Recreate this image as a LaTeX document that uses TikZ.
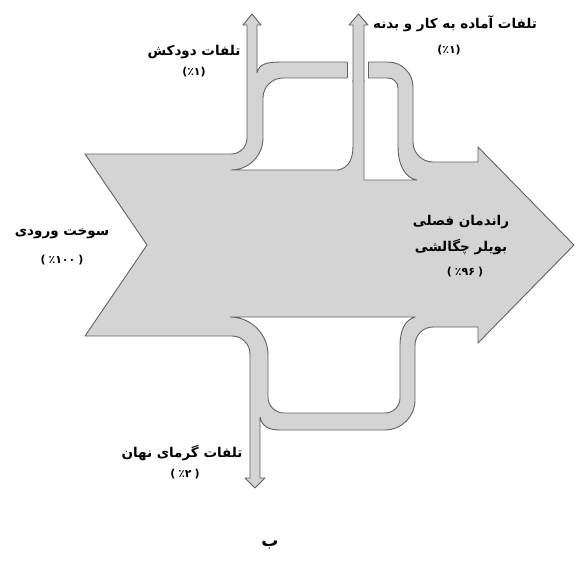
\documentclass[tikz,border=0pt]{standalone}
\usepackage{fontspec}
\newfontfamily\farsi[Script=Arabic]{DejaVu Sans}
\newfontfamily\plain{DejaVu Sans}
\TeXXeTstate=1

\tikzstyle{flow}=[fill=black!17, draw=black!62, line width=0.9pt, line join=round]
\tikzstyle{hole}=[fill=white, draw=black!62, line width=0.9pt, line join=round]
\tikzstyle{edge}=[draw=black!62, line width=0.9pt]
\tikzstyle{title}=[font=\farsi\bfseries\fontsize{13.5}{16}\selectfont, inner sep=0pt]
\tikzstyle{share}=[font=\bfseries\fontsize{11}{13}\selectfont, inner sep=0pt]
\newcommand{\pct}[2]{{\plain(#1}{\farsi ٪}{\farsi #2}{\plain#1)}}

\begin{document}
\begin{tikzpicture}[x=1pt, y=-1pt]
  \useasboundingbox (0,0) rectangle (576,560);
  % main stream with the flue, standby and latent branches
  \path[flow] (85,154) [rounded corners=16] -- (247,154) [sharp corners] -- (247,25)
    -- (243,25) -- (252,14) -- (261,25) -- (257,25) -- (257,73)
    .. controls (259,64) and (266,62) .. (282,62) [rounded corners=25] -- (413,62)
    [rounded corners=20] -- (413,162) [sharp corners] -- (478,162) -- (478,147)
    -- (574,245) -- (478,343) -- (478,327) [rounded corners=18] -- (415,327)
    [rounded corners=30] -- (415,430) [sharp corners] -- (280,430)
    .. controls (268,430) and (262,426) .. (260,417) -- (260,478) -- (265,478)
    -- (255,488) -- (245,478) -- (250,478) [rounded corners=18] -- (250,336)
    [sharp corners] -- (85,336) -- (147,245) -- cycle;
  % openings between the branches
  \draw[hole] (231,170) arc[start angle=90, end angle=0, radius=32] -- (263,98)
    arc[start angle=180, end angle=270, radius=20] -- (353,78) -- (353,146)
    .. controls (353,160) and (348,168) .. (338,170) -- cycle;
  \draw[hole] (364,78) -- (388,78) arc[start angle=270, end angle=360, radius=10]
    -- (398,146) .. controls (398,165) and (405,178) .. (417,180) -- (364,180) -- cycle;
  \draw[hole] (230,317) -- (415,317) .. controls (405,320) and (400,330) .. (400,346)
    -- (400,398) arc[start angle=0, end angle=90, radius=15] -- (284,413)
    arc[start angle=90, end angle=180, radius=16] -- (268,355)
    arc[start angle=0, end angle=-90, radius=38] -- cycle;
  % standby stack crossing over the flue band
  \fill[white] (347,60) rectangle (368,80);
  \draw[flow] (353,82) -- (353,25) -- (349,25) -- (358.5,14) -- (368,25) -- (364,25) -- (364,82);
  \draw[edge] (347,62) -- (347,78) (368,62) -- (368,78);

  \node[title] (F1) at (194,52) {\beginR تلفات دودکش\endR};
  \node[share] (F2) at (194,72) {\pct{}{۱}};
  \node[title] (S1) at (455,24) {\beginR تلفات آماده به کار و بدنه\endR};
  \node[share] (S2) at (449,50) {\pct{}{۱}};
  \node[title] (I1) at (62,234) {\beginR سوخت ورودی\endR};
  \node[share] (I2) at (62,260) {\pct{\hspace{3pt}}{۱۰۰}};
  \node[title] (E1) at (461,222) {\beginR راندمان فصلی\endR};
  \node[title] (E2) at (461,247) {\beginR بویلر چگالشی\endR};
  \node[share] (E3) at (465,272) {\pct{\hspace{3pt}}{۹۶}};
  \node[title] (L1) at (182,453) {\beginR تلفات گرمای نهان\endR};
  \node[share] (L2) at (185,474) {\pct{\hspace{3pt}}{۲}};
  \node[font=\farsi\bfseries\fontsize{17}{19}\selectfont, inner sep=0pt] (C) at (270,545) {ب};
\end{tikzpicture}
\end{document}
